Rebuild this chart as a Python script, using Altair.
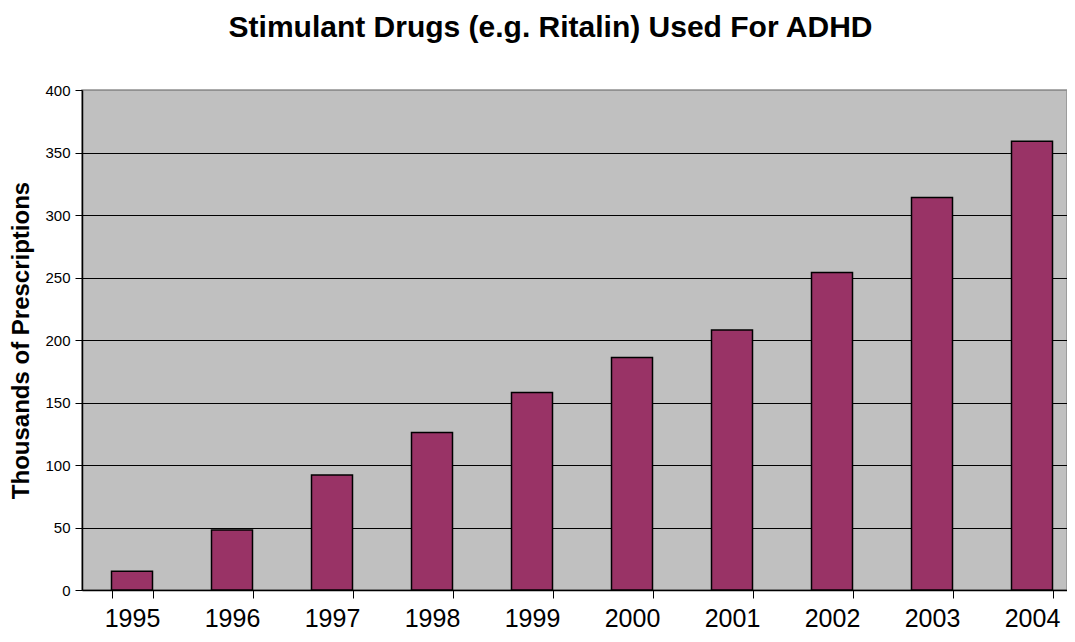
import altair as alt
import pandas as pd

years = ["1995", "1996", "1997", "1998", "1999", "2000", "2001", "2002", "2003", "2004"]
prescriptions = [15, 48, 92, 126, 158, 186, 208, 254, 314, 359]
y_ticks = [0, 50, 100, 150, 200, 250, 300, 350, 400]

df = pd.DataFrame({"year": years, "value": prescriptions})

FONT = "Liberation Sans"

chart = alt.Chart(df).mark_bar(
    color="#993366", stroke="black", strokeWidth=1.5
).encode(
    x=alt.X("year:O", sort=years, title=None,
            scale=alt.Scale(paddingInner=0.59, paddingOuter=0.295, range=[0, 1000]),
            axis=alt.Axis(labelAngle=0, labelFontSize=25, labelFont=FONT,
                          labelColor="black", labelPadding=8,
                          tickBand="extent", tickSize=8, tickColor="black",
                          domainColor="black", domainWidth=1.5, ticks=True)),
    y=alt.Y("value:Q", title="Thousands of Prescriptions",
            scale=alt.Scale(domain=[0, 400], nice=False),
            axis=alt.Axis(values=y_ticks,
                          labelFontSize=15, labelFont=FONT, labelColor="black",
                          tickSize=7, tickColor="black", domainColor="black",
                          domainWidth=1.5, labelPadding=5,
                          titleFontSize=24, titleFont=FONT, titleFontWeight="bold",
                          titleColor="black", titlePadding=11,
                          grid=True,
                          gridColor={"condition": {"test": "datum.value === 400", "value": "#909090"}, "value": "black"},
                          gridWidth=1.2)),
).properties(
    width=985, height=500,
    title=alt.TitleParams("Stimulant Drugs (e.g. Ritalin) Used For ADHD",
                          fontSize=30, font=FONT, fontWeight="bold", color="black",
                          anchor="middle", frame="group", offset=40, dx=-24),
    background="white",
    autosize=alt.AutoSizeParams(type="none"),
    padding={"left": 74, "top": 82, "right": 0, "bottom": 44},
).configure_view(
    fill="#C0C0C0", stroke="#909090", strokeWidth=1.5
)

chart.save("out.html", embed_options={"renderer": "svg", "actions": False})
